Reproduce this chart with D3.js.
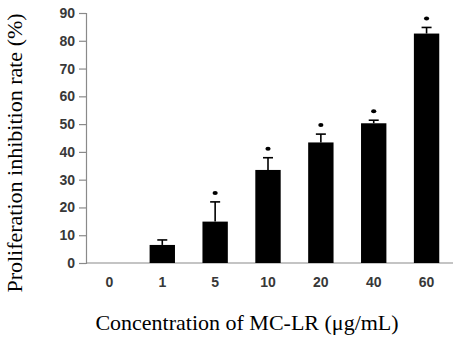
<!DOCTYPE html>
<html lang="en">
<head>
  <meta charset="utf-8" />
  <style>
    body { margin: 0; background: #fff; }
    .tick text { font-family: Arial, "Liberation Sans", sans-serif; font-weight: bold; font-size: 14px; fill: #383838; }
  </style>
</head>
<body>
<div id="container"></div>
<script src="https://cdn.jsdelivr.net/npm/d3@7"></script>
<script>

const categories = ['0', '1', '5', '10', '20', '40', '60'];
const values = [0, 6.5, 14.9, 33.5, 43.4, 50.3, 82.6];
const errors = [0, 1.8, 7.1, 4.4, 3.0, 1.1, 2.2];
const significant = [false, false, true, true, true, true, true];
const yTicks = [0, 10, 20, 30, 40, 50, 60, 70, 80, 90];

const width = 455;
const height = 339;
const margin = { top: 13, right: 2, bottom: 76, left: 86 };

const svg = d3.select('#container')
  .append('svg')
  .attr('width', width)
  .attr('height', height);

const x = d3.scaleBand()
  .domain(categories)
  .range([margin.left - 3, width - margin.right])
  .paddingInner(0.52)
  .paddingOuter(0.26);

const y = d3.scaleLinear()
  .domain([0, 90])
  .range([height - margin.bottom, margin.top]);

const data = categories.map((c, i) => ({ c, v: values[i], e: errors[i], s: significant[i] }));

// y axis
const yAxis = svg.append('g')
  .attr('transform', `translate(${margin.left}, 0)`)
  .call(d3.axisLeft(y).tickValues(yTicks).tickSize(7).tickPadding(4));
yAxis.selectAll('line, path').attr('stroke', '#8a8a8a').attr('stroke-width', 1.2);

// x axis
const xAxis = svg.append('g')
  .attr('transform', `translate(0, ${y(0)})`)
  .call(d3.axisBottom(x).tickSize(0).tickPadding(14));
xAxis.select('.domain')
  .attr('d', `M${margin.left},0H${width - 2}`)
  .attr('stroke', '#8a8a8a').attr('stroke-width', 1.2);

// bars
svg.selectAll('rect.bar')
  .data(data.filter(d => d.v > 0))
  .enter()
  .append('rect')
  .attr('class', 'bar')
  .attr('x', d => x(d.c))
  .attr('y', d => y(d.v))
  .attr('width', x.bandwidth())
  .attr('height', d => y(0) - y(d.v))
  .attr('fill', '#000');

// error bars (upper only)
const eb = svg.selectAll('g.err')
  .data(data.filter(d => d.e > 0))
  .enter()
  .append('g')
  .attr('class', 'err')
  .attr('stroke', '#000')
  .attr('stroke-width', 1.6);

eb.append('line')
  .attr('x1', d => x(d.c) + x.bandwidth() / 2)
  .attr('x2', d => x(d.c) + x.bandwidth() / 2)
  .attr('y1', d => y(d.v))
  .attr('y2', d => y(d.v + d.e));

eb.append('line')
  .attr('x1', d => x(d.c) + x.bandwidth() / 2 - 5)
  .attr('x2', d => x(d.c) + x.bandwidth() / 2 + 5)
  .attr('y1', d => y(d.v + d.e))
  .attr('y2', d => y(d.v + d.e));

// significance marks
svg.selectAll('ellipse.sig')
  .data(data.filter(d => d.s))
  .enter()
  .append('ellipse')
  .attr('class', 'sig')
  .attr('cx', d => x(d.c) + x.bandwidth() / 2)
  .attr('cy', d => y(d.v + d.e) - 9)
  .attr('rx', 2.6)
  .attr('ry', 2)
  .attr('fill', '#000');

// axis titles
svg.append('text')
  .attr('x', 247)
  .attr('y', 330)
  .attr('text-anchor', 'middle')
  .attr('font-family', '"Times New Roman", "Liberation Serif", serif')
  .attr('font-size', 22)
  .attr('fill', '#000')
  .text('Concentration of MC-LR (μg/mL)');

svg.append('text')
  .attr('transform', 'translate(22, 153) rotate(-90)')
  .attr('text-anchor', 'middle')
  .attr('font-family', '"Times New Roman", "Liberation Serif", serif')
  .attr('font-size', 22)
  .attr('fill', '#000')
  .text('Proliferation inhibition rate (%)');

</script>
</body>
</html>
